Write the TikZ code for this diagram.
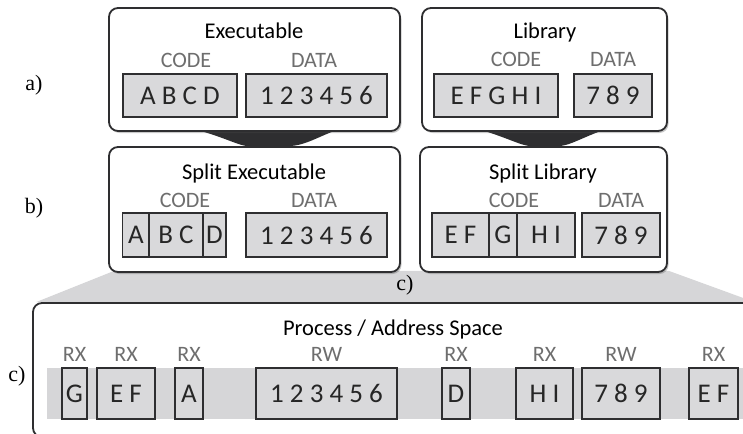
\documentclass[tikz,border=0pt]{standalone}
\usepackage{fontspec}
\setmainfont{Carlito}
\newfontfamily\tagfont{Liberation Serif}
\usetikzlibrary{positioning,calc,shadows,backgrounds}

\definecolor{edge}{HTML}{2E2E30}
\definecolor{segfill}{HTML}{D9D9DB}
\definecolor{permgray}{HTML}{6E6E6E}
\definecolor{bandgray}{HTML}{D6D6D8}

\tikzset{
  panel/.style={draw=edge, line width=1.8pt, rounded corners=9pt, fill=white, inner sep=0pt,
    drop shadow={shadow xshift=1.5pt, shadow yshift=-2pt, opacity=0.3, fill=black!70}},
  seg/.style={draw=edge, line width=1.4pt, fill=segfill, inner sep=0pt, text=black!85,
    font=\fontsize{27}{27}\selectfont},
  perm/.style={font=\fontsize{22}{22}\selectfont, text=permgray, inner sep=0pt},
  title/.style={font=\fontsize{22.5}{22.5}\selectfont, inner sep=0pt, anchor=base},
  tag/.style={font=\tagfont\fontsize{22}{22}\selectfont, inner sep=0pt},
}

\begin{document}
\begin{tikzpicture}[x=1pt,y=-1pt]
  \useasboundingbox (0,0) rectangle (743,433);

  % panels
  \node[panel, minimum width=291pt, minimum height=123pt] (exe) at (254.5,69.5) {};
  \node[panel, minimum width=245pt, minimum height=123pt] (lib) at (544.5,69.5) {};
  \node[panel, minimum width=291pt, minimum height=125pt] (sexe) at (254.5,209.5) {};
  \node[panel, minimum width=247pt, minimum height=125pt] (slib) at (543.5,209.5) {};
  \node[panel, minimum width=740pt, minimum height=134pt] (proc) at (403,370) {};
  \coordinate (fanR) at (757,303);

  % funnels behind the panels
  \begin{scope}[on background layer]
    \fill[bandgray] ($(sexe.south west)+(6,-2)$) -- ($(slib.south east)+(1,-2)$)
      -- (fanR) -- ($(proc.north west)+(4,0)$) -- cycle;
    \fill[edge] ($(exe.south)+(-61.5,-3)$) .. controls ($(exe.south)+(-30,5)$) and ($(exe.south)+(-14,15)$)
      .. ($(sexe.north)+(-5,0)$) -- ($(sexe.north)+(30,0)$)
      .. controls ($(exe.south)+(50,15)$) and ($(exe.south)+(62,5)$) .. ($(exe.south)+(85.5,-3)$) -- cycle;
    \fill[edge] ($(lib.south)+(-67.5,-3)$) .. controls ($(lib.south)+(-38,5)$) and ($(lib.south)+(-22,15)$)
      .. ($(slib.north)+(-11,0)$) -- ($(slib.north)+(13,0)$)
      .. controls ($(lib.south)+(24,15)$) and ($(lib.south)+(38,5)$) .. ($(lib.south)+(62.5,-3)$) -- cycle;
  \end{scope}

  % row a
  \node[title] (exeT) at (254,39) {Executable};
  \node[perm, anchor=base] (exeC) at (186,68) {CODE};
  \node[perm, anchor=base] (exeD) at (314,68) {DATA};
  \node[seg, minimum width=114pt, minimum height=43pt] (exeCode) at (180,95.5) {A B C D};
  \node[seg, minimum width=141pt, minimum height=43pt] (exeData) at (316.5,95.5) {1 2 3 4 5 6};

  \node[title] (libT) at (545,39) {Library};
  \node[perm, anchor=base] (libC) at (516,67) {CODE};
  \node[perm, anchor=base] (libD) at (613,67) {DATA};
  \node[seg, minimum width=124pt, minimum height=43pt] (libCode) at (496,95.5) {E F G H I};
  \node[seg, minimum width=78pt, minimum height=43pt] (libData) at (613,95.5) {7 8 9};

  % row b
  \node[title] (sexeT) at (254,179) {Split Executable};
  \node[perm, anchor=base] (sexeC) at (185,207) {CODE};
  \node[perm, anchor=base] (sexeD) at (314,207) {DATA};
  \node[seg, minimum width=26.5pt, minimum height=44pt] (sA) at (136,235) {A};
  \node[seg, minimum width=54pt, minimum height=44pt] (sBC) at (176,235) {B C};
  \node[seg, minimum width=23pt, minimum height=44pt] (sD) at (214.5,235) {D};
  \node[seg, minimum width=141pt, minimum height=44pt] (sData) at (316.5,235) {1 2 3 4 5 6};

  \node[title] (slibT) at (543,179) {Split Library};
  \node[perm, anchor=base] (slibC) at (514,207) {CODE};
  \node[perm, anchor=base] (slibD) at (621,207) {DATA};
  \node[seg, minimum width=57pt, minimum height=44pt] (sEF) at (460.5,235) {E F};
  \node[seg, minimum width=28pt, minimum height=44pt] (sG) at (503,235) {G};
  \node[seg, minimum width=58pt, minimum height=44pt] (sHI) at (546,235) {H I};
  \node[seg, minimum width=78pt, minimum height=44pt] (s789) at (621,235) {7 8 9};

  % row c
  \fill[bandgray] (47,368) rectangle (743,419);
  \node[title] (procT) at (393,335) {Process / Address Space};
  \foreach \nm/\cx/\w/\txt/\perm in {g/74.5/25/G/RX, ef/126/58/E F/RX, a/189/28/A/RX,
      dat/326.5/141/1 2 3 4 5 6/RW, d/456/28/D/RX, hi/544.5/57/H I/RX,
      nine/621/78/7 8 9/RW, efb/713.5/49/E F/RX} {
    \node[seg, minimum width=\w pt, minimum height=51pt] (c\nm) at (\cx,393.5) {\txt};
    \node[perm, above=6pt of c\nm] {\perm};
  }

  % row tags
  \node[tag] (tagA) at (34,85) {a)};
  \node[tag] (tagB) at (34,208) {b)};
  \node[tag] (tagC) at (17,376) {c)};
  \node[tag] (tagF) at (405,285) {c)};
\end{tikzpicture}
\end{document}
